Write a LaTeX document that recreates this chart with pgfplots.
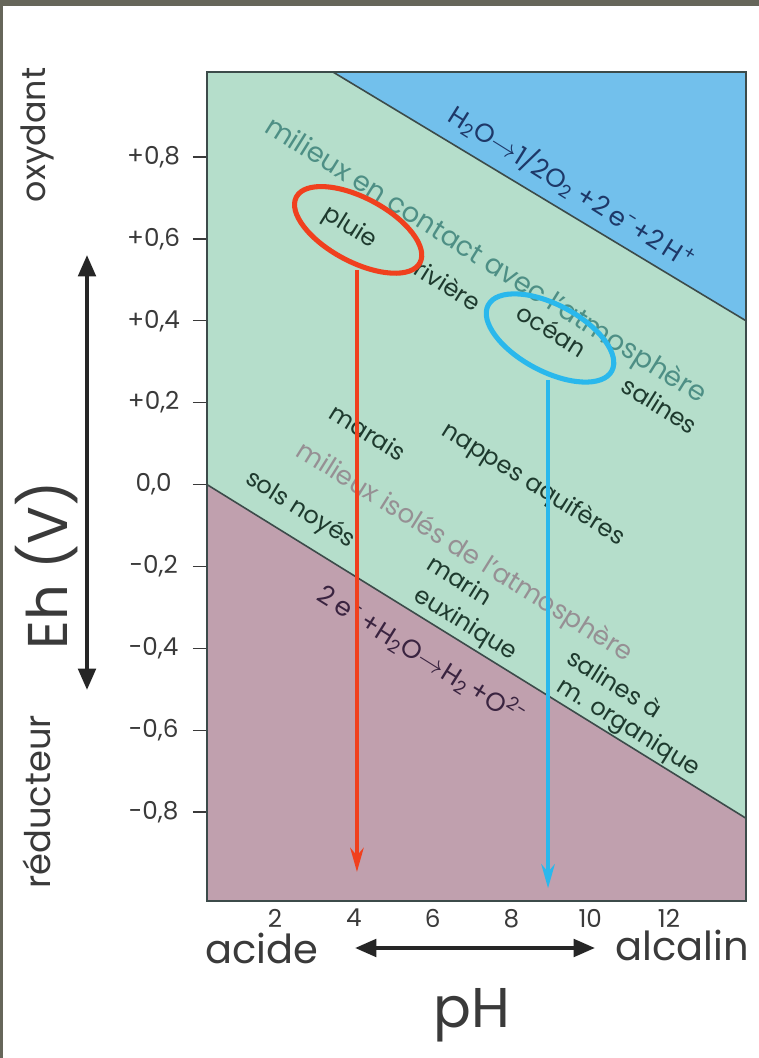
\documentclass[border=0pt]{standalone}
\usepackage{pgfplots}
\pgfplotsset{compat=1.18}
\usepackage{fontspec}
\setmainfont{Poppins}
\usetikzlibrary{arrows.meta,shapes.geometric}
\definecolor{frame}{HTML}{66665A}
\definecolor{skyb}{HTML}{72C0EC}
\definecolor{mint}{HTML}{B5DECB}
\definecolor{mauve}{HTML}{C0A0AE}
\definecolor{bnd}{HTML}{3C4B4A}
\definecolor{lbl}{HTML}{1E3A2E}
\definecolor{atmo}{HTML}{4E8F85}
\definecolor{isol}{HTML}{969094}
\definecolor{eqb}{HTML}{1E3868}
\definecolor{eqp}{HTML}{3A2440}
\definecolor{redl}{HTML}{F0401E}
\definecolor{bluel}{HTML}{2AB8EC}
\definecolor{txt}{HTML}{3A3A3A}
\newcommand{\fs}[1]{\fontsize{#1pt}{#1pt}\selectfont}
\begin{document}
\begin{tikzpicture}[x=0.75pt,y=0.75pt]
\fill[frame] (0,0) rectangle (759,1058);
\fill[white] (3,0) rectangle (759,1052);
\begin{axis}[at={(155.25pt,117.75pt)}, anchor=south west, scale only axis,
  width=404.25pt, height=621.75pt,
  xmin=0.274, xmax=13.954, ymin=-1.017, ymax=1.0076,
  axis background/.style={fill=mint},
  axis on top,
  axis line style={draw=bnd, line width=1.5pt},
  xtick={2,4,6,8,10,12}, xticklabels={2,4,6,8,10,12},
  xtick style={draw=none},
  ytick={-0.8,-0.6,-0.4,-0.2,0,0.2,0.4,0.6,0.8},
  yticklabels={{-0,8},{-0,6},{-0,4},{-0,2},{0,0},{+0,2},{+0,4},{+0,6},{+0,8}},
  ytick pos=left, tick align=outside, major tick length=10.5pt,
  ytick style={draw=txt, line width=1pt},
  ticklabel style={font=\fs{18.5}, text=txt},
  yticklabel style={anchor=east, text width=52pt, align=center},
  xticklabel style={yshift=8pt},
]
\addplot[fill=mauve, draw=none] coordinates {(0.274,-1.017) (0.274,0) (13.954,-0.815) (13.954,-1.017)} -- cycle;
\addplot[fill=skyb, draw=none] coordinates {(3.47,1.0076) (13.954,1.0076) (13.954,0.40)} -- cycle;
\addplot[draw=bnd, line width=1.2pt] coordinates {(0.274,0) (13.954,-0.815)};
\addplot[draw=bnd, line width=1.2pt] coordinates {(3.47,1.0076) (13.954,0.40)};

% labels
\node[rotate=-32, text=eqb, font=\fs{19.5}] at (axis cs:9.54,0.727) {H\textsubscript{2}O\(\rightarrow\)1/2O\textsubscript{2} +2\,e\textsuperscript{-}+2\,H\textsuperscript{+}};
\node[rotate=-32, text=atmo, font=\fs{20.5}] at (axis cs:7.33,0.545) {milieux en contact avec l'atmosphère};
\node[rotate=-32, text=isol, font=\fs{19.5}] at (axis cs:6.80,-0.167) {milieux isolés de l'atmosphère};
\node[rotate=-32, text=lbl, font=\fs{18}] at (axis cs:3.90,0.627) {pluie};
\node[rotate=-32, text=lbl, font=\fs{18}] at (axis cs:6.39,0.487) {rivière};
\node[rotate=-32, text=lbl, font=\fs{18}] at (axis cs:9.03,0.377) {océan};
\node[rotate=-32, text=lbl, font=\fs{18}] at (axis cs:11.77,0.194) {salines};
\node[rotate=-32, text=lbl, font=\fs{18}] at (axis cs:4.36,0.128) {marais};
\node[rotate=-32, text=lbl, font=\fs{18}] at (axis cs:8.55,-0.001) {nappes aquifères};
\node[rotate=-32, text=lbl, font=\fs{18}] at (axis cs:2.64,-0.062) {sols noyés};
\node[rotate=-32, text=lbl, font=\fs{18}] at (axis cs:6.70,-0.233) {marin};
\node[rotate=-32, text=lbl, font=\fs{18}] at (axis cs:6.82,-0.343) {euxinique};
\node[rotate=-32, text=lbl, font=\fs{18}] at (axis cs:10.63,-0.485) {salines à};
\node[rotate=-32, text=lbl, font=\fs{18}] at (axis cs:10.96,-0.595) {m. organique};
\node[rotate=-32, text=eqp, font=\fs{19.5}] at (axis cs:5.73,-0.416) {2\,e\textsuperscript{-}\,+H\textsubscript{2}O\(\rightarrow\)H\textsubscript{2}\,+O\textsuperscript{2-}};

% ellipses and arrows
\node[draw=redl, line width=3.8pt, ellipse, inner sep=0pt, minimum width=105pt, minimum height=48pt, rotate=-28] at (axis cs:4.11,0.622) {};
\node[draw=bluel, line width=3.8pt, ellipse, inner sep=0pt, minimum width=105pt, minimum height=50pt, rotate=-28] at (axis cs:8.98,0.358) {};
\addplot[redl, line width=3pt, -{Stealth[length=18pt,width=10pt]}] coordinates {(4.08,0.524) (4.08,-0.946)};
\addplot[bluel, line width=3pt, -{Stealth[length=18pt,width=10pt]}] coordinates {(8.93,0.255) (8.93,-0.986)};
\end{axis}

% outer labels
\node[rotate=90, font=\fs{25}, text=txt] at (37,923) {oxydant};
\node[rotate=90, font=\fs{26.5}, text=txt] at (37,256) {réducteur};
\node[rotate=90, font=\fs{42}, text=txt] at (47,493) {Eh (V)};
\draw[black!85, line width=3pt, {Triangle[length=16pt,width=13pt]}-{Triangle[length=16pt,width=13pt]}] (87,803) -- (87,368);
\node[font=\fs{30}, text=txt] at (262,110) {acide};
\node[font=\fs{30}, text=txt] at (682,113) {alcalin};
\draw[black!85, line width=3pt, {Triangle[length=16pt,width=13pt]}-{Triangle[length=16pt,width=13pt]}] (355,110) -- (595,110);
\node[font=\fs{42}, text=txt] at (472,43) {pH};
\end{tikzpicture}
\end{document}
